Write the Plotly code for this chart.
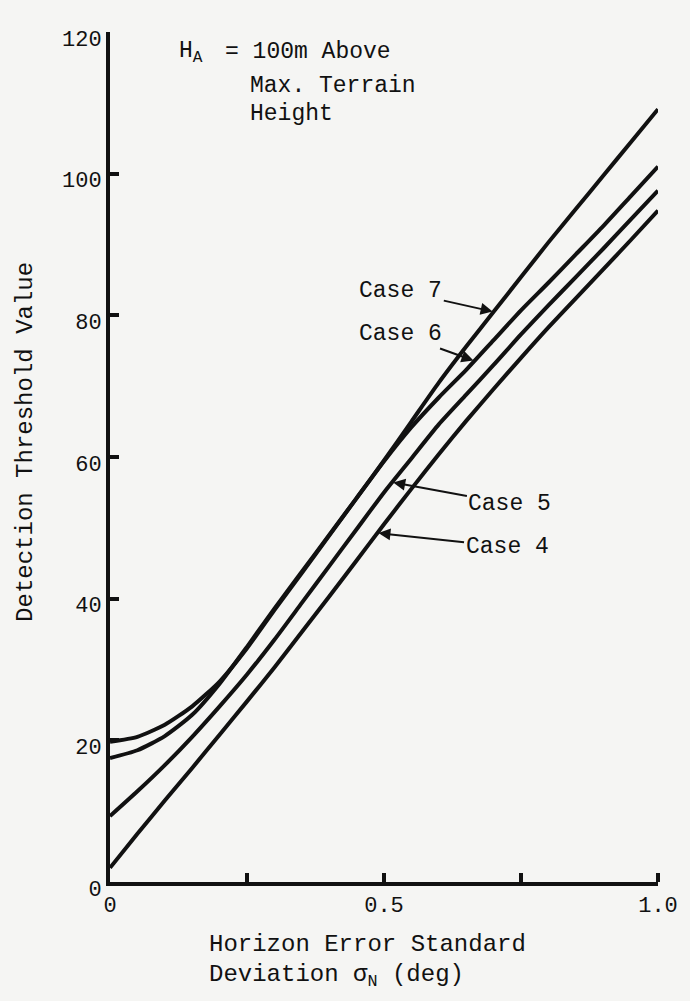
import numpy as np
import plotly.graph_objects as go

# ---------------- data ----------------
sigma_n = [0.00, 0.05, 0.10, 0.15, 0.20, 0.25, 0.30, 0.35, 0.40, 0.45, 0.50,
           0.55, 0.60, 0.65, 0.70, 0.75, 0.80, 0.85, 0.90, 0.95, 1.00]
case4 = [2.0, 6.8, 11.5, 16.1, 20.8, 25.5, 30.3, 35.3, 40.3, 45.4, 50.5,
         55.5, 60.4, 65.1, 69.6, 74.0, 78.3, 82.4, 86.5, 90.6, 94.8]
case5 = [9.3, 12.8, 16.5, 20.5, 24.8, 29.3, 34.2, 39.4, 44.6, 49.8, 55.0,
         59.8, 64.6, 68.8, 73.0, 77.3, 81.4, 85.4, 89.4, 93.5, 97.6]
case6 = [17.5, 18.6, 20.6, 23.6, 28.0, 33.2, 38.6, 43.8, 49.0, 54.2, 59.4,
         64.2, 68.4, 72.3, 76.5, 80.7, 84.6, 88.6, 92.6, 96.8, 101.0]
case7 = [19.8, 20.5, 22.2, 24.8, 28.3, 33.0, 38.4, 43.6, 48.9, 54.2, 59.5,
         65.0, 70.5, 75.6, 80.5, 85.4, 90.3, 95.0, 99.7, 104.4, 109.1]

case_names = ["Case 4", "Case 5", "Case 6", "Case 7"]
y_tick_vals = [0, 20, 40, 60, 80, 100, 120]
x_label_vals = [0, 0.5, 1.0]
x_label_text = ["0", "0.5", "1.0"]
x_minor_vals = [0.25, 0.75]

# where each case label points on its curve (sigma_N value)
label_targets = [0.488, 0.515, 0.665, 0.70]

# ---------------- layout geometry ----------------
W_FIG, H_FIG = 690, 1001
L, R, T, B = 110, 26, 32, 119
PW = W_FIG - L - R
PH = H_FIG - T - B
Y_MAX = 120.0

def paper_x(px):
    return (px - L) / PW

def paper_y(py):
    return (H_FIG - B - py) / PH

FONT = "Liberation Mono"
INK = "#111111"

fig = go.Figure()
for name, vals in zip(case_names, [case4, case5, case6, case7]):
    fig.add_trace(go.Scatter(x=sigma_n, y=vals, mode="lines", name=name,
                             line=dict(color=INK, width=4, shape="spline", smoothing=0.6),
                             showlegend=False, cliponaxis=False))

annotations = []
# case labels with arrows
label_pos = [(510, 547), (513, 504), (404, 334), (405, 291)]
for name, vals, xt, (lx, ly) in zip(case_names, [case4, case5, case6, case7],
                                    label_targets, label_pos):
    yt = float(np.interp(xt, sigma_n, vals))
    ptx = L + xt * PW
    pty = T + PH - yt * PH / Y_MAX
    annotations.append(dict(x=xt, y=yt, xref="x", yref="y", text=name,
                            showarrow=True, arrowhead=2, arrowsize=1.2, arrowwidth=2,
                            arrowcolor=INK, ax=lx - ptx, ay=ly - pty, standoff=1,
                            font=dict(family=FONT, size=23, color=INK)))

# H_A note
annotations += [
    dict(x=paper_x(178), y=paper_y(52), xref="paper", yref="paper", xanchor="left",
         yanchor="middle", text="H<sub>A</sub>", showarrow=False,
         font=dict(family=FONT, size=23, color=INK)),
    dict(x=paper_x(224), y=paper_y(52), xref="paper", yref="paper", xanchor="left",
         yanchor="middle", text="= 100m Above", showarrow=False,
         font=dict(family=FONT, size=23, color=INK)),
    dict(x=paper_x(250), y=paper_y(86), xref="paper", yref="paper", xanchor="left",
         yanchor="middle", text="Max. Terrain", showarrow=False,
         font=dict(family=FONT, size=23, color=INK)),
    dict(x=paper_x(250), y=paper_y(114), xref="paper", yref="paper", xanchor="left",
         yanchor="middle", text="Height", showarrow=False,
         font=dict(family=FONT, size=23, color=INK)),
]
# axis titles
annotations += [
    dict(x=paper_x(25), y=paper_y(442), xref="paper", yref="paper", xanchor="center",
         yanchor="middle", text="Detection Threshold Value", textangle=-90,
         showarrow=False, font=dict(family=FONT, size=24, color=INK)),
    dict(x=paper_x(208), y=paper_y(944), xref="paper", yref="paper", xanchor="left",
         yanchor="middle", text="Horizon Error Standard", showarrow=False,
         font=dict(family=FONT, size=24, color=INK)),
    dict(x=paper_x(208), y=paper_y(976), xref="paper", yref="paper", xanchor="left",
         yanchor="middle", text="Deviation σ<sub>N</sub> (deg)", showarrow=False,
         font=dict(family=FONT, size=24, color=INK)),
]

fig.update_layout(
    width=W_FIG, height=H_FIG,
    margin=dict(l=L, r=R, t=T, b=B),
    paper_bgcolor="#f5f5f3", plot_bgcolor="#f5f5f3",
    annotations=annotations,
    font=dict(family=FONT, size=22, color=INK),
    hovermode=False,
)
fig.update_xaxes(range=[0, 1.0], tickvals=x_label_vals, ticktext=x_label_text,
                 ticks="", showline=True, linewidth=4, linecolor=INK, showgrid=False,
                 zeroline=False, tickfont=dict(family=FONT, size=22, color=INK),
                 minor=dict(tickvals=x_minor_vals + x_label_vals[1:], ticks="inside",
                            ticklen=9, tickwidth=4, tickcolor=INK, showgrid=False))
fig.update_yaxes(range=[0, Y_MAX], tickvals=y_tick_vals,
                 ticks="inside", ticklen=9, tickwidth=4, tickcolor=INK,
                 showline=True, linewidth=4, linecolor=INK, showgrid=False,
                 zeroline=False, tickfont=dict(family=FONT, size=22, color=INK),
                 ticklabelshift=6)

fig.write_html(
    "out.html",
    config={"displayModeBar": False, "staticPlot": True},
    post_script="document.body.style.margin='0px';document.body.style.overflow='hidden';",
)
